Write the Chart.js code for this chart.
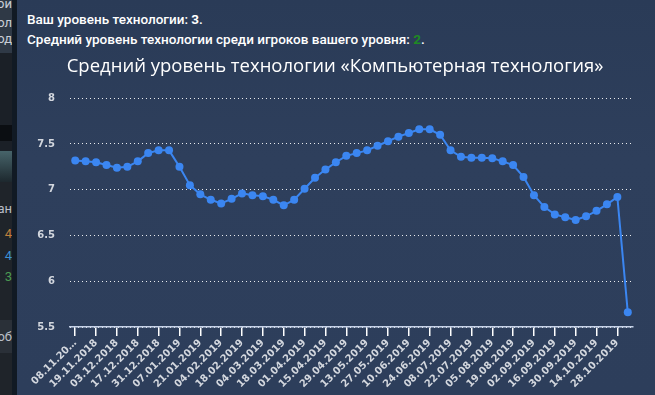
<!DOCTYPE html>
<html>
<head>
<meta charset="utf-8">
<script src="https://cdn.jsdelivr.net/npm/chart.js@4.4.0/dist/chart.umd.min.js"></script>
<style>
  html, body { margin: 0; padding: 0; }
  body { width: 655px; height: 395px; overflow: hidden; position: relative; background: #1f242a; font-family: Roboto, sans-serif; }
  .side { position: absolute; left: 0; width: 12px; overflow: hidden; }
  .side span { position: absolute; right: 0; font-size: 13px; white-space: nowrap; }
  .band { position: absolute; left: 12px; top: 0; width: 5px; height: 395px; background: #111a24; }
  .panel { position: absolute; left: 17px; top: 0; width: 638px; height: 395px;
    background: linear-gradient(180deg, #2a3b57 0%, #2e3f5c 40%, #2d3e5b 100%); }
  .info { position: absolute; left: 27px; color: #fff; font-size: 13.5px; font-weight: 500; white-space: nowrap; }
  .info b { font-weight: 700; }
  #wrap { position: absolute; left: 17px; top: 48px; width: 638px; height: 347px; }
</style>
</head>
<body>
<div class="side" style="top:0;height:53px;background:#2f3946;">
  <span style="top:-4px;color:#c9ced6;">Мой</span>
  <span style="top:15px;color:#c9ced6;">пол</span>
  <span style="top:31px;color:#c9ced6;">род</span>
</div>
<div class="side" style="top:53px;height:72px;background:#1b2027;"></div>
<div class="side" style="top:125px;height:16px;background:#0b0e12;"></div>
<div class="side" style="top:141px;height:10px;background:#1b2027;"></div>
<div class="side" style="top:151px;height:31px;background:linear-gradient(180deg,#47646a,#1d282e);"></div>
<div class="side" style="top:182px;height:138px;background:#1f242a;">
  <span style="top:19px;color:#b9bec6;">ран</span>
  <span style="top:44px;color:#c0803c;">4</span>
  <span style="top:66px;color:#3b8fd4;">4</span>
  <span style="top:87px;color:#4c9a52;">3</span>
</div>
<div class="side" style="top:320px;height:33px;background:#2a3038;">
  <span style="top:9px;color:#b9bec6;">об</span>
</div>
<div class="band"></div>
<div class="panel"></div>
<div class="info" style="top:11px;">Ваш уровень технологии: <b>3</b>.</div>
<div class="info" style="top:31px;">Средний уровень технологии среди игроков вашего уровня: <b style="color:#1f8a24;">2</b>.</div>
<div id="wrap"><canvas id="myChart"></canvas></div>
<script>
const dates = [
  '08.11.2018', '12.11.2018', '19.11.2018', '26.11.2018', '03.12.2018', '10.12.2018',
  '17.12.2018', '24.12.2018', '31.12.2018', '03.01.2019', '07.01.2019', '14.01.2019',
  '21.01.2019', '28.01.2019', '04.02.2019', '11.02.2019', '18.02.2019', '25.02.2019',
  '04.03.2019', '11.03.2019', '18.03.2019', '25.03.2019', '01.04.2019', '08.04.2019',
  '15.04.2019', '22.04.2019', '29.04.2019', '06.05.2019', '13.05.2019', '20.05.2019',
  '27.05.2019', '03.06.2019', '10.06.2019', '17.06.2019', '24.06.2019', '01.07.2019',
  '08.07.2019', '15.07.2019', '22.07.2019', '29.07.2019', '05.08.2019', '12.08.2019',
  '19.08.2019', '26.08.2019', '02.09.2019', '09.09.2019', '16.09.2019', '23.09.2019',
  '30.09.2019', '07.10.2019', '14.10.2019', '21.10.2019', '28.10.2019', '04.11.2019'
];

const avgLevel = [
  7.32, 7.31, 7.30, 7.27, 7.24, 7.25, 7.31, 7.40, 7.43, 7.43,
  7.25, 7.05, 6.95, 6.89, 6.85, 6.90, 6.96, 6.94, 6.93, 6.89,
  6.83, 6.89, 7.01, 7.13, 7.22, 7.30, 7.37, 7.40, 7.43, 7.48,
  7.53, 7.58, 7.62, 7.66, 7.66, 7.60, 7.43, 7.36, 7.35, 7.35,
  7.345, 7.31, 7.27, 7.14, 6.94, 6.81, 6.73, 6.70, 6.67, 6.71,
  6.77, 6.84, 6.92, 5.66
];

const yMin = 5.5;
const yMax = 8;
const yStep = 0.5;

const chartTitle = 'Средний уровень технологии «Компьютерная технология»';

const labelColor = '#d3d7de';

const ctx = document.getElementById('myChart');

new Chart(ctx, {
  type: 'line',
  data: {
    labels: dates,
    datasets: [{
      label: 'Средний уровень',
      data: avgLevel,
      borderColor: '#3b86f1',
      backgroundColor: '#3b86f1',
      borderWidth: 2,
      pointRadius: 4,
      pointBorderWidth: 0,
      tension: 0,
      fill: false
    }]
  },
  options: {
    responsive: true,
    maintainAspectRatio: false,
    animation: false,
    layout: {
      padding: { left: 20, right: 22 }
    },
    plugins: {
      legend: { display: false },
      tooltip: { enabled: false },
      title: {
        display: true,
        text: chartTitle,
        color: '#ffffff',
        font: { family: 'Open Sans', size: 18.5, weight: 'normal' },
        padding: { top: 8, bottom: 20 }
      }
    },
    scales: {
      x: {
        type: 'category',
        offset: true,
        afterFit: function (scale) {
          scale.height = 68;
        },
        grid: {
          display: true,
          drawOnChartArea: false,
          drawTicks: true,
          tickLength: 9,
          color: '#ffffff',
          lineWidth: 1.5
        },
        border: { display: true, color: '#c6d2e8', width: 1.5 },
        ticks: {
          autoSkip: false,
          maxRotation: 45,
          minRotation: 45,
          padding: 1,
          color: labelColor,
          font: { family: 'DejaVu Sans', size: 10, weight: 'bold' },
          callback: function (value, index) {
            if (index % 2 !== 0) return null;
            const lbl = this.getLabelForValue(value);
            // first label got cut in the original
            if (index === 0) return lbl.slice(0, 8) + '…';
            return lbl;
          }
        }
      },
      y: {
        min: yMin,
        max: yMax,
        afterFit: function (scale) {
          scale.width = 33;
        },
        grid: {
          color: 'rgba(255,255,255,0.9)',
          lineWidth: 1,
          drawTicks: false
        },
        border: { display: false, dash: [1, 3] },
        ticks: {
          stepSize: yStep,
          padding: 15,
          color: labelColor,
          font: { family: 'DejaVu Sans', size: 10, weight: 'bold' },
          callback: function (value) {
            return String(Number(value.toFixed(1)));
          }
        }
      }
    }
  }
});
</script>
</body>
</html>
